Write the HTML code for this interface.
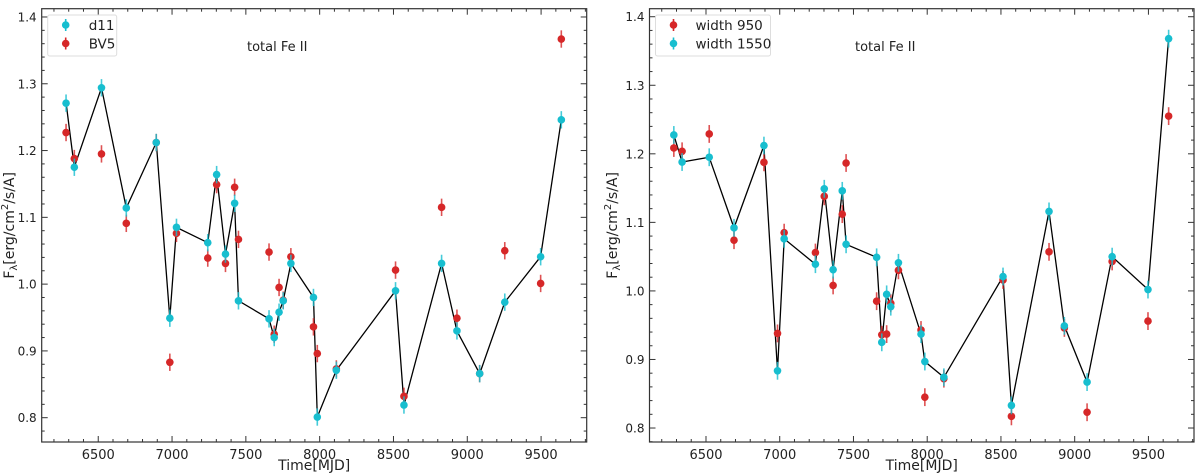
<!DOCTYPE html>
<html><head><meta charset="utf-8"><style>
html,body{margin:0;padding:0;background:#fff;}
svg{display:block;font-family:"DejaVu Sans","Liberation Sans",sans-serif;}
</style></head><body>
<svg id="fig" width="1200" height="475" viewBox="0 0 1200 475"></svg>
<script>
const mjd = [6282,6338,6522,6690,6893,6985,7030,7242,7302,7362,7424,7450,7657,7692,7725,7753,7805,7958,7984,8113,8514,8571,8826,8930,9084,9254,9497,9637];
const d11 = [1.271,1.175,1.294,1.114,1.212,0.949,1.085,1.062,1.164,1.045,1.121,0.975,0.948,0.920,0.958,0.975,1.031,0.980,0.801,0.871,0.990,0.819,1.031,0.930,0.866,0.973,1.041,1.246];
const bv5 = [1.227,1.188,1.195,1.091,1.212,0.883,1.076,1.039,1.149,1.031,1.145,1.067,1.048,0.925,0.995,0.976,1.041,0.936,0.896,0.873,1.021,0.832,1.115,0.949,0.866,1.050,1.001,1.367];
const w950 = [1.2085,1.2037,1.229,1.074,1.1876,0.938,1.085,1.056,1.138,1.008,1.112,1.1866,0.985,0.936,0.937,0.982,1.030,0.943,0.845,0.872,1.016,0.817,1.057,0.946,0.823,1.043,0.956,1.255];
const w1550 = [1.2275,1.188,1.195,1.092,1.212,0.8835,1.076,1.039,1.149,1.031,1.146,1.068,1.049,0.925,0.995,0.977,1.041,0.937,0.897,0.874,1.021,0.833,1.116,0.949,0.867,1.050,1.002,1.368];
const xTicks = [6500,7000,7500,8000,8500,9000,9500];
const yTicks = [0.8,0.9,1.0,1.1,1.2,1.3,1.4];
const errBar = 0.013;

const NS="http://www.w3.org/2000/svg";
const svg=document.getElementById('fig');
const CY="#17becf", RD="#d62728";
function mk(tag,attrs,parent){const e=document.createElementNS(NS,tag);for(const k in attrs)e.setAttribute(k,attrs[k]);(parent||svg).appendChild(e);return e;}

function panel(p){
  const g=mk('g',{});
  
  
  const x=v=>p.x0+(v-6117)/(9809-6117)*(p.x1-p.x0);
  const y=v=>p.y1-(v-p.ymin)/(p.ymax-p.ymin)*(p.y1-p.y0);
  const fr=mk('rect',{x:p.x0,y:p.y0,width:p.x1-p.x0,height:p.y1-p.y0,fill:'none',stroke:'#333','stroke-width':1.2},g);
  
  
  for(let v=6200;v<=9800;v+=100){
    const major=v%500===0, L=major?6:3, px=x(v);
    mk('line',{x1:px,x2:px,y1:p.y1,y2:p.y1-L,stroke:'#333','stroke-width':1},g);
    mk('line',{x1:px,x2:px,y1:p.y0,y2:p.y0+L,stroke:'#333','stroke-width':1},g);
  }
  xTicks.forEach(v=>{const t=mk('text',{x:x(v),y:p.y1+17,'text-anchor':'middle','font-size':13,fill:'#222'},g);t.textContent=v;
    });
  for(let i=Math.ceil(p.ymin*50);i<=Math.floor(p.ymax*50);i++){
    const v=i/50, major=i%5===0, L=major?6:3, py=y(v);
    mk('line',{x1:p.x0,x2:p.x0+L,y1:py,y2:py,stroke:'#333','stroke-width':1},g);
    mk('line',{x1:p.x1,x2:p.x1-L,y1:py,y2:py,stroke:'#333','stroke-width':1},g);
  }
  yTicks.forEach(v=>{const t=mk('text',{x:p.x0-5,y:y(v)+4.5,'text-anchor':'end','font-size':12,fill:'#222'},g);t.textContent=v.toFixed(1);
    });
  const xl=mk('text',{x:(p.x0+p.x1)/2,y:470,'text-anchor':'middle','font-size':14,fill:'#222'},g);
  xl.textContent='Time[MJD]';
  
  const cy=(p.y0+p.y1)/2, lx=p.ylabX;
  const yl=mk('text',{x:lx,y:cy,'text-anchor':'middle','font-size':14,fill:'#222',transform:`rotate(-90 ${lx} ${cy})`},g);
  yl.innerHTML='F<tspan font-size="10" dy="3">λ</tspan><tspan dy="-3">[erg/cm</tspan><tspan font-size="10" dy="-6">2</tspan><tspan dy="6">/s/A]</tspan>';
  
  const ti=mk('text',{x:p.titleX,y:51,'font-size':13,fill:'#222'},g);
  ti.textContent='total Fe II';
  
  const pts=mjd.map((m,i)=>x(m).toFixed(1)+','+y(p.lineSeries[i]).toFixed(1)).join(' ');
  const pl=mk('polyline',{points:pts,fill:'none',stroke:'#000','stroke-width':1.3},g);
  
  p.series.forEach(s=>{
    const sg=mk('g',{},g);
    
    mjd.forEach((m,i)=>{
      const px=x(m),v=s.vals[i];
      mk('line',{x1:px,x2:px,y1:y(v-errBar),y2:y(v+errBar),stroke:s.col,'stroke-width':1.6,'stroke-opacity':0.8},sg);
      const c=mk('circle',{cx:px,cy:y(v),r:3.8,fill:s.col},sg);
      
    });
  });
  const lg=mk('g',{},g);
  
  mk('rect',{x:p.x0+6,y:15,width:p.legW,height:41,fill:'#fff',stroke:'#ddd','stroke-width':1,rx:2},lg);
  p.legend.forEach((s,i)=>{
    const ly=25+i*18.5, mx=p.x0+24;
    mk('line',{x1:mx,x2:mx,y1:ly-6,y2:ly+6,stroke:s.col,'stroke-width':1.6},lg);
    mk('circle',{cx:mx,cy:ly,r:3.8,fill:s.col},lg);
    const t=mk('text',{x:mx+p.legTx,y:ly+5,'font-size':13.5,fill:'#222'},lg);t.textContent=s.name;
    
  });
}
panel({name:'left-panel',x0:41.7,x1:586.7,y0:8.7,y1:442,ymin:0.7636,ymax:1.4124,titleX:247,ylabX:14,lineSeries:d11,
  series:[{name:'bv5',vals:bv5,col:RD},{name:'d11',vals:d11,col:CY}],
  legend:[{name:'d11',col:CY},{name:'BV5',col:RD}],legW:69,legTx:23});
panel({name:'right-panel',x0:649.5,x1:1194,y0:8.7,y1:442,ymin:0.7796,ymax:1.4117,titleX:855,ylabX:617,lineSeries:w1550,
  series:[{name:'width-950',vals:w950,col:RD},{name:'width-1550',vals:w1550,col:CY}],
  legend:[{name:'width 950',col:RD},{name:'width 1550',col:CY}],legW:115,legTx:22});
</script>
</body></html>
